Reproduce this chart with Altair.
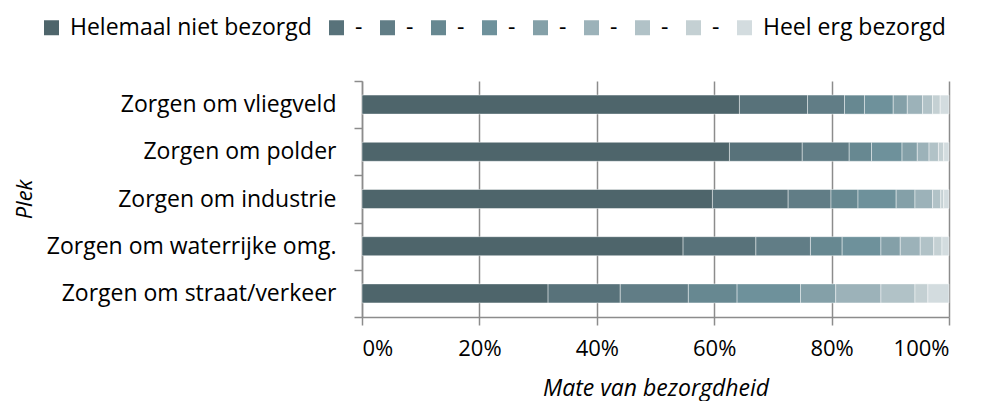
import altair as alt
import pandas as pd

levels = ["Helemaal niet bezorgd", "2", "3", "4", "5", "6", "7", "8", "9", "Heel erg bezorgd"]
colors = ["#4e656b", "#58727a", "#617d86", "#678891", "#6e919b", "#84a0a8",
          "#9cb2b9", "#b1c2c7", "#c4d0d3", "#d3dcdf"]

plekken = ["Zorgen om vliegveld", "Zorgen om polder", "Zorgen om industrie",
           "Zorgen om waterrijke omg.", "Zorgen om straat/verkeer"]

vliegveld = [64.3, 11.6, 6.3, 3.4, 4.9, 2.4, 2.6, 1.7, 1.3, 1.5]
polder = [62.6, 12.4, 8.0, 3.8, 5.2, 2.6, 2.0, 1.6, 0.9, 0.9]
industrie = [59.7, 12.9, 7.3, 4.6, 6.5, 3.2, 3.0, 1.4, 0.5, 0.9]
waterrijk = [54.7, 12.4, 9.3, 5.4, 6.6, 3.3, 3.4, 2.3, 1.4, 1.2]
straat = [31.7, 12.3, 11.6, 8.3, 10.8, 6.0, 7.7, 5.8, 2.2, 3.6]

series = [vliegveld, polder, industrie, waterrijk, straat]

rows = []
for plek, vals in zip(plekken, series):
    for i, (lvl, v) in enumerate(zip(levels, vals)):
        rows.append({"Plek": plek, "Niveau": lvl, "idx": i, "Aandeel": v / 100.0})
df = pd.DataFrame(rows)

FONT = "Open Sans"

chart = alt.Chart(df).mark_bar(size=19, stroke="white", strokeWidth=0.8, strokeOpacity=0.55).encode(
    y=alt.Y("Plek:N", sort=plekken,
            scale=alt.Scale(paddingInner=0, paddingOuter=0),
            axis=alt.Axis(title="Plek", titleFontStyle="italic", titleFontWeight="normal",
                          titleFontSize=22, titleFont=FONT, titleColor="#000000",
                          titleX=-338, titleY=118, titleAngle=270,
                          titleAlign="center", titleBaseline="middle",
                          labelFont=FONT, labelFontSize=23, labelColor="#000000",
                          labelLimit=0,
                          labelPadding=18, tickBand="extent", tickSize=8,
                          tickColor="#8c8c8c", tickWidth=1.5,
                          domainColor="#8c8c8c", domainWidth=1.5, grid=False)),
    x=alt.X("Aandeel:Q", stack="zero",
            scale=alt.Scale(domain=[0, 1], nice=False),
            axis=alt.Axis(title="Mate van bezorgdheid", titleFontStyle="italic",
                          titleFontWeight="normal", titleFontSize=23, titleFont=FONT,
                          titleColor="#000000", titlePadding=18,
                          format=".0%", values=[0, 0.2, 0.4, 0.6, 0.8, 1.0],
                          labelFont=FONT, labelFontSize=22, labelColor="#000000",
                          labelPadding=13, tickSize=8, tickColor="#8c8c8c", tickWidth=1.5,
                          domainColor="#8c8c8c", domainWidth=1.5,
                          grid=True, gridColor="#8c8c8c", gridWidth=1.5)),
    color=alt.Color("Niveau:N", sort=levels,
                    scale=alt.Scale(domain=levels, range=colors),
                    legend=alt.Legend(title=None, orient="none", direction="horizontal",
                                      legendX=-322, legendY=-65,
                                      symbolType="square", symbolSize=225,
                                      symbolStrokeWidth=0, labelFont=FONT,
                                      labelFontSize=23, labelColor="#000000",
                                      labelLimit=0,
                                      labelOffset=7, columnPadding=13,
                                      labelExpr="length(datum.label) < 3 ? '-' : datum.label")),
    order=alt.Order("idx:Q", sort="ascending"),
).properties(
    width=587, height=236, padding={"left": 5, "top": 8, "right": 5, "bottom": 6}
).configure_view(stroke=None)

chart.save("out.html", embed_options={"renderer": "svg", "actions": False})
